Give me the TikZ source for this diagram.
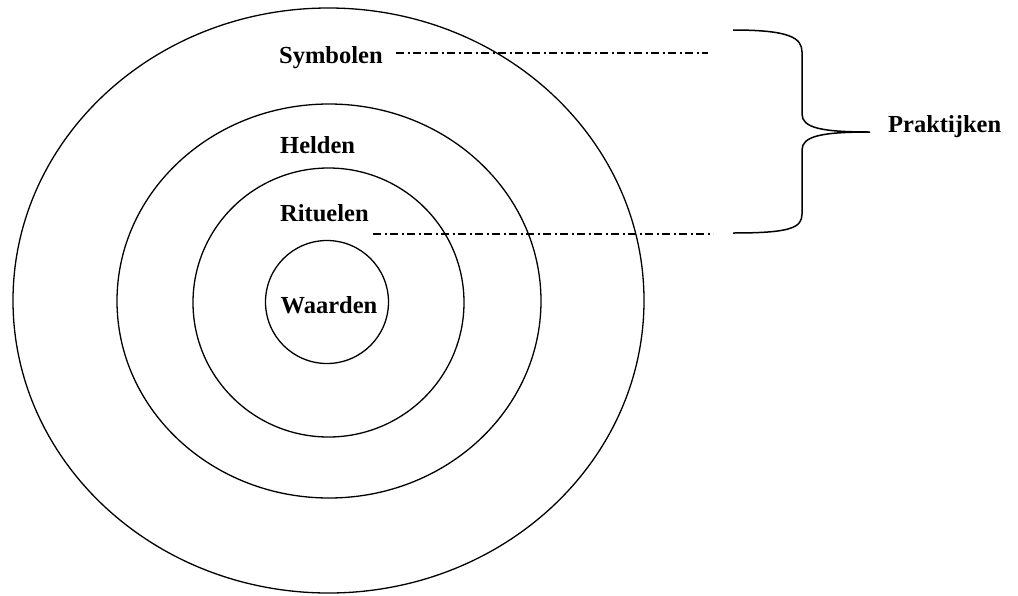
\documentclass[tikz,border=0pt]{standalone}
\usepackage{fontspec}
\setmainfont{Liberation Serif}
\begin{document}
\begin{tikzpicture}[x=1pt,y=-1pt,
  ring/.style={draw=black,line width=1.3pt},
  lbl/.style={font=\fontsize{24.5}{28}\selectfont\bfseries,inner sep=0pt,anchor=base west},
  dashdot/.style={line width=1.1pt,dash pattern=on 8pt off 3.5pt on 2pt off 3.5pt},
  bracestyle/.style={line width=1.5pt}]
\useasboundingbox (0,0) rectangle (1018,595);
% rings
\draw[ring] (328.5,300.5) ellipse [x radius=315.5pt, y radius=292.5pt];
\draw[ring] (329,301) ellipse [x radius=212pt, y radius=197pt];
\draw[ring] (328.5,302.5) ellipse [x radius=135.5pt, y radius=134.5pt];
\draw[ring] (327,302) circle [radius=61.5pt];
% labels
\node[lbl] (sym) at (279,63) {Symbolen};
\node[lbl] (hel) at (280,153) {Helden};
\node[lbl] (rit) at (280,221) {Rituelen};
\node[lbl,anchor=base] (waa) at (329,313) {Waarden};
\node[lbl] (pra) at (888,132) {Praktijken};
% dash-dot lines
\coordinate (d1s) at (396,53);
\coordinate (d1e) at (708,53);
\coordinate (d2s) at (373,234);
\coordinate (d2e) at (713,234);
\draw[dashdot] (d1s) -- (d1e);
\draw[dashdot] (d2s) -- (d2e);
% brace
\coordinate (bt) at (733,30);
\coordinate (bb) at (733,233);
\coordinate (tip) at (870,132);
\draw[bracestyle] (bt) .. controls (790,30) and (802,38) .. (802,52)
  -- (802,114) .. controls (802,128) and (822,132) .. (tip)
  .. controls (822,132) and (802,136) .. (802,150)
  -- (802,214) .. controls (802,228) and (790,233) .. (bb);
\end{tikzpicture}
\end{document}
